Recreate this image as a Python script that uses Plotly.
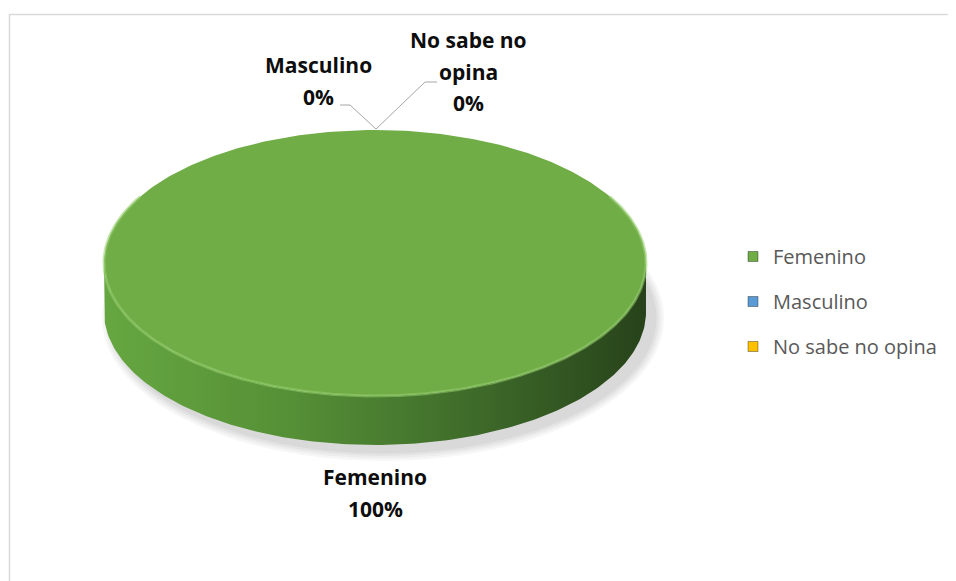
import numpy as np
import plotly.graph_objects as go
import textwrap

# ---- data ----
categories = ["Femenino", "Masculino", "No sabe no opina"]
values = [100, 0, 0]
percent_labels = ["100%", "0%", "0%"]

# ---- style ----
top_colors = ["#70AD47", "#5B9BD5", "#FFC000"]
side_scales = [
    [[0, "#66a741"], [0.35, "#558f36"], [0.7, "#3d6929"], [1, "#27421a"]],
    [[0, "#5B9BD5"], [1, "#2e5c87"]],
    [[0, "#FFC000"], [1, "#9a7400"]],
]
W, H = 956, 581
OFF = 8  # page body margin compensation
FW, FH = W - OFF, H - OFF
cx, cy, rx, ry, depth = 375, 263, 271, 133, 49
FONT = "Open Sans"

fig = go.Figure()

total = float(sum(values))
start = 0.0
slices = []
for cat, v in zip(categories, values):
    span = 360.0 * v / total
    slices.append((cat, start, start + span))
    start += span


def ell(theta_deg, dy=0.0):
    t = np.radians(theta_deg)
    return cx + rx * np.sin(t), cy - ry * np.cos(t) + dy


# sides (front half only: 90..270 deg clockwise from top)
for i, (cat, a0, a1) in enumerate(slices):
    lo, hi = max(a0, 90.0), min(a1, 270.0)
    if hi <= lo:
        continue
    th = np.linspace(lo, hi, 200)
    xt, yt = ell(th)
    xb, yb = ell(th[::-1], depth)
    xs = np.concatenate([xt, xb, xt[:1]])
    ys = np.concatenate([yt, yb, yt[:1]])
    fig.add_trace(go.Scatter(
        x=xs, y=ys, mode="lines", fill="toself", line=dict(width=0),
        fillgradient=dict(type="horizontal", colorscale=side_scales[i]),
        showlegend=False, hoverinfo="skip"))

# top faces
for i, (cat, a0, a1) in enumerate(slices):
    if a1 - a0 <= 0:
        continue
    th = np.linspace(a0, a1, 400)
    xe, ye = ell(th)
    if a1 - a0 < 360:
        xs = np.concatenate([[cx], xe, [cx]])
        ys = np.concatenate([[cy], ye, [cy]])
    else:
        xs, ys = xe, ye
    fig.add_trace(go.Scatter(
        x=xs, y=ys, mode="lines", fill="toself", fillcolor=top_colors[i],
        line=dict(width=0), showlegend=False, hoverinfo="skip"))
    # bevel highlight on rim
    th2 = np.linspace(max(a0, 60), min(a1, 300), 300)
    if len(th2) and th2[-1] > th2[0]:
        xr, yr = ell(th2)
        fig.add_trace(go.Scatter(
            x=xr, y=yr, mode="lines", line=dict(width=3, color="rgba(150,205,110,0.55)"),
            showlegend=False, hoverinfo="skip"))

# legend entries
for i, cat in enumerate(categories):
    fig.add_trace(go.Scatter(
        x=[None], y=[None], mode="markers", name=cat, legendgroup=cat,
        marker=dict(symbol="square", size=10, color=top_colors[i],
                    line=dict(width=1, color="rgba(0,0,0,0.35)"))))

# shadow
shapes = []
for k, op in enumerate([0.035, 0.035, 0.04, 0.045]):
    grow = 10 - 2.5 * k
    shapes.append(dict(type="circle", xref="x", yref="y", layer="below",
                       x0=cx - rx - grow + 8, x1=cx + rx + grow + 8,
                       y0=cy + depth - ry - grow + 6, y1=cy + depth + ry + grow + 6,
                       fillcolor=f"rgba(0,0,0,{op})", line=dict(width=0)))
# border
shapes.append(dict(type="rect", xref="x", yref="y", x0=9.5, y0=14.5, x1=W + 20, y1=H + 20,
                   line=dict(color="#d9d9d9", width=1.5), layer="below"))
# leader lines
shapes.append(dict(type="path", xref="x", yref="y",
                   path="M 340 105 L 350 105 L 376 129", line=dict(color="#a6a6a6", width=1)))
shapes.append(dict(type="path", xref="x", yref="y",
                   path="M 376 129 L 425 82 L 437 82", line=dict(color="#a6a6a6", width=1)))

# data labels
label_pos = {"Femenino": (375, 477), "Masculino": (318, 65), "No sabe no opina": (468, 40)}
annotations = []
line_h = 31.5
for cat, pct in zip(categories, percent_labels):
    lines = textwrap.wrap(cat, 10) + [pct]
    x0, y0 = label_pos[cat]
    for j, ln in enumerate(lines):
        annotations.append(dict(x=x0, y=y0 + j * line_h, xref="x", yref="y", text=f"<b>{ln}</b>",
                                showarrow=False, xanchor="center", yanchor="middle",
                                font=dict(family=FONT, size=21, color="#0d0d0d")))

fig.update_layout(
    width=FW, height=FH, margin=dict(l=0, r=0, t=0, b=0),
    paper_bgcolor="white", plot_bgcolor="white",
    xaxis=dict(range=[OFF, W], visible=False, fixedrange=True),
    yaxis=dict(range=[H, OFF], visible=False, fixedrange=True),
    shapes=shapes, annotations=annotations,
    legend=dict(x=(733 - OFF) / FW, y=1 - (237 - OFF) / FH, xanchor="left", yanchor="top",
                font=dict(family=FONT, size=20, color="#595959"),
                tracegroupgap=16, bgcolor="rgba(0,0,0,0)"),
    showlegend=True,
)

fig.write_html("out.html")
